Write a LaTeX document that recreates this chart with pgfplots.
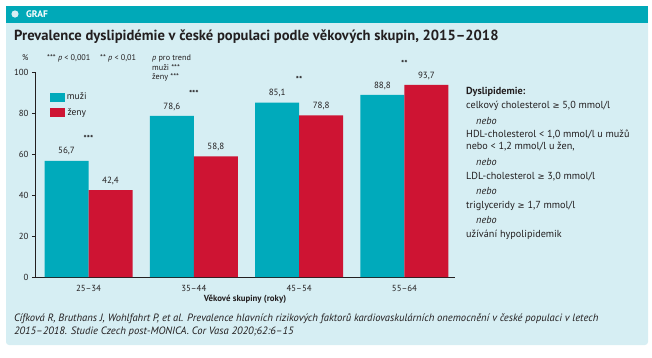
\documentclass[border=0pt]{standalone}
\usepackage{pgfplots}
\pgfplotsset{compat=1.18}
\usepackage{fontspec}
\setmainfont{PT Sans}
\newfontfamily\sym{DejaVu Sans}
\definecolor{teal}{HTML}{00AABB}
\definecolor{hdr}{HTML}{00A9B8}
\definecolor{rd}{HTML}{CE1433}
\definecolor{bg}{HTML}{D6EEF3}
\definecolor{txt}{HTML}{231F20}
\begin{document}
\begin{tikzpicture}
\path (0,0) rectangle (652pt,-357pt);
\fill[bg, rounded corners=3pt] (6pt,-6pt) rectangle (648pt,-345pt);
\fill[hdr] (6pt,-6pt) rectangle (648pt,-22.5pt);
\fill[bg] (15pt,-14pt) circle (3.6pt);
\node[anchor=west, text=white, font=\fontsize{9.5}{10}\selectfont\bfseries, inner sep=0] at (26pt,-14.5pt) {GRAF};
\node[anchor=west, text=txt, font=\fontsize{14.6}{16}\selectfont\bfseries, inner sep=0] at (14pt,-37pt) {Prevalence dyslipidémie v české populaci podle věkových skupin, 2015–2018};
\begin{scope}[every node/.style={anchor=west, text=txt, inner sep=0, font=\fontsize{8.2}{8.5}\selectfont}]
\node at (22pt,-58pt) {\%};
\node at (47pt,-58pt) {*** \textit{p} < 0,001};
\node at (100pt,-58pt) {** \textit{p} < 0,01};
\node at (152pt,-58pt) {\textit{p} pro trend};
\node at (152pt,-67.5pt) {muži ***};
\node at (152pt,-77pt) {ženy ***};
\end{scope}
\begin{axis}[
  scale only axis, width=420pt, height=205pt,
  at={(35pt,-277pt)}, anchor=south west,
  xmin=-0.508, xmax=3.48, ymin=0, ymax=100,
  axis x line=bottom, axis y line=left,
  axis line style={-, line width=0.9pt, color=txt},
  ybar=0pt, bar width=44pt,
  xtick=data, xticklabels={25–34,35–44,45–54,55–64},
  xtick style={draw=none},
  ytick={0,20,40,60,80,100},
  ytick style={color=txt, line width=0.8pt},
  tick align=outside, major tick length=3pt,
  /pgf/number format/assume math mode=true,
  tick label style={font=\fontsize{8.8}{9}\selectfont, text=txt},
  xticklabel style={yshift=-2pt},
  xlabel={\bfseries Věkové skupiny (roky)},
  xlabel style={font=\fontsize{8.8}{9}\selectfont, text=txt, yshift=4pt},
  clip=false,
  nodes near coords,
  nodes near coords style={font=\fontsize{9}{9}\selectfont, text=txt, yshift=2pt,
    /pgf/number format/.cd, use comma, fixed, fixed zerofill, precision=1, assume math mode=true},
  legend style={at={(0.028,0.92)}, anchor=north west, draw=none, fill=none,
    font=\fontsize{9.5}{10}\selectfont, text=txt, row sep=3pt},
  legend image code/.code={\fill[#1] (0pt,-5pt) rectangle (15pt,4pt);},
]
\addplot[fill=teal, draw=none] coordinates {(0,56.7) (1,78.6) (2,85.1) (3,88.8)};
\addplot[fill=rd, draw=none] coordinates {(0,42.4) (1,58.8) (2,78.8) (3,93.7)};
\legend{muži, ženy}
\node[font=\fontsize{8.5}{9}\selectfont\bfseries, text=txt] at (axis cs:0,67.8) {***};
\node[font=\fontsize{8.5}{9}\selectfont\bfseries, text=txt] at (axis cs:1,89.8) {***};
\node[font=\fontsize{8.5}{9}\selectfont\bfseries, text=txt] at (axis cs:2,96.6) {**};
\node[font=\fontsize{8.5}{9}\selectfont\bfseries, text=txt] at (axis cs:3,104.4) {**};
\end{axis}
\begin{scope}[every node/.style={anchor=west, text=txt, inner sep=0, font=\fontsize{10.2}{11}\selectfont}]
\node at (466pt,-92pt) {\bfseries Dyslipidemie:};
\node at (466pt,-106pt) {celkový cholesterol {\sym\fontsize{8.5}{9}\selectfont ≥} 5,0 mmol/l};
\node at (476pt,-120.5pt) {\itshape nebo};
\node at (466pt,-135pt) {HDL-cholesterol < 1,0 mmol/l u mužů};
\node at (466pt,-147pt) {nebo < 1,2 mmol/l u žen,};
\node at (476pt,-162pt) {\itshape nebo};
\node at (466pt,-177pt) {LDL-cholesterol {\sym\fontsize{8.5}{9}\selectfont ≥} 3,0 mmol/l};
\node at (476pt,-191pt) {\itshape nebo};
\node at (466pt,-206pt) {triglyceridy {\sym\fontsize{8.5}{9}\selectfont ≥} 1,7 mmol/l};
\node at (476pt,-220pt) {\itshape nebo};
\node at (466pt,-235pt) {užívání hypolipidemik};
\end{scope}
\begin{scope}[every node/.style={anchor=west, text=txt, inner sep=0, font=\fontsize{10.6}{11}\selectfont\itshape}]
\node at (14pt,-319pt) {Cífková R, Bruthans J, Wohlfahrt P, et al. Prevalence hlavních rizikových faktorů kardiovaskulárních onemocnění v české populaci v letech};
\node at (14pt,-332pt) {2015–2018. Studie Czech post-MONICA. Cor Vasa 2020;62:6–15};
\end{scope}
\end{tikzpicture}
\end{document}
